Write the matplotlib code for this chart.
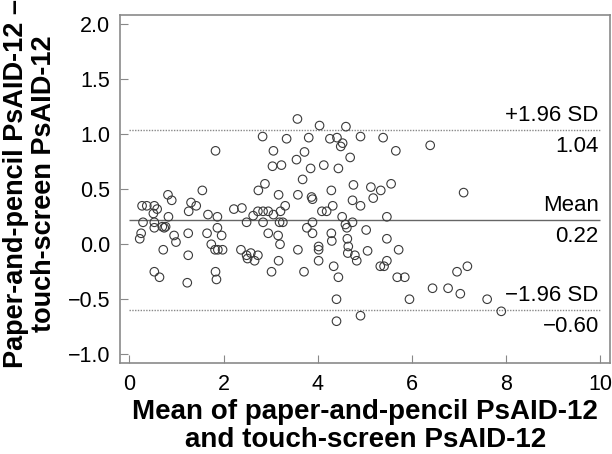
import numpy as np
import matplotlib.pyplot as plt

plt.rcParams['font.family'] = ['Liberation Sans', 'DejaVu Sans']

# Bland-Altman data: mean of both versions vs difference (paper - touch)
mean_scores = [
    2.83, 3.34, 1.83, 3.06, 3.04, 3.23, 1.55, 2.74, 2.88, 0.82, 0.90, 3.17,
    0.27, 0.37, 0.53, 0.59, 0.51, 0.83, 1.31, 1.42, 1.26, 1.67, 1.87, 2.22,
    2.39, 2.63, 2.73, 2.84, 2.95, 3.06, 3.21, 3.31, 0.29, 0.53, 0.53, 0.70,
    0.74, 0.77, 2.49, 2.84, 3.19, 3.26, 1.87, 0.25, 0.22, 0.95, 0.99, 1.25,
    1.65, 1.96, 2.95, 3.16, 3.20, 1.74, 1.82, 1.88, 1.98, 0.72, 2.37, 2.49,
    2.58, 2.51, 2.66, 2.73, 1.25, 3.17, 0.53, 0.64, 1.83, 1.85, 3.02, 1.23,
    3.57, 4.04, 4.60, 3.81, 4.26, 4.41, 4.53, 4.49, 4.91, 5.39, 6.39, 3.72,
    5.66, 3.55, 4.69, 3.85, 4.13, 4.44, 3.68,
    3.58, 3.87, 3.89, 4.29, 4.76, 5.13, 5.34, 5.56, 5.18, 4.74, 4.91, 4.32,
    4.09, 4.19, 4.52, 5.47, 3.89, 3.77, 3.89, 4.59, 4.62, 4.74,
    4.29, 4.30, 5.03, 4.63, 4.65, 4.64, 4.79, 4.83, 5.06, 5.47, 5.72, 3.58,
    4.02, 4.02, 4.02, 3.71, 4.34, 4.44, 5.33, 5.41, 5.47, 5.69, 5.85, 4.40,
    5.95, 6.44, 6.77, 4.40, 4.91,
    7.10, 7.18, 6.96, 7.03, 7.60, 7.90,
]
differences = [
    0.98, 0.96, 0.85, 0.85, 0.71, 0.72, 0.49, 0.49, 0.55, 0.45, 0.40, 0.45,
    0.35, 0.35, 0.35, 0.32, 0.28, 0.25, 0.38, 0.35, 0.30, 0.27, 0.25, 0.32,
    0.33, 0.26, 0.30, 0.30, 0.30, 0.27, 0.30, 0.35, 0.20, 0.20, 0.15, 0.16,
    0.15, 0.16, 0.20, 0.20, 0.20, 0.20, 0.15, 0.10, 0.05, 0.08, 0.02, 0.10,
    0.10, 0.08, 0.10, 0.08, 0.00, 0.00, -0.05, -0.05, -0.05, -0.05, -0.05, -0.10,
    -0.08, -0.13, -0.15, -0.10, -0.10, -0.15, -0.25, -0.30, -0.25, -0.32, -0.25, -0.35,
    1.14, 1.08, 1.07, 0.97, 0.96, 0.97, 0.92, 0.89, 0.98, 0.97, 0.90, 0.84,
    0.85, 0.77, 0.79, 0.69, 0.72, 0.69, 0.59,
    0.45, 0.43, 0.41, 0.49, 0.54, 0.52, 0.49, 0.55, 0.42, 0.40, 0.35, 0.35,
    0.30, 0.30, 0.25, 0.25, 0.20, 0.15, 0.10, 0.18, 0.15, 0.20,
    0.10, 0.03, 0.13, 0.05, -0.02, -0.08, -0.10, -0.15, -0.06, 0.05, -0.05, -0.05,
    -0.02, -0.05, -0.15, -0.25, -0.20, -0.30, -0.20, -0.20, -0.15, -0.30, -0.30, -0.50,
    -0.50, -0.40, -0.40, -0.70, -0.65,
    0.47, -0.20, -0.25, -0.45, -0.50, -0.61,
]

mean_diff = 0.22
upper_loa = 1.04
lower_loa = -0.60

fig = plt.figure(figsize=(6.12, 4.54), dpi=100)
ax = fig.add_axes([0.196, 0.2, 0.8, 0.767])

ax.scatter(mean_scores, differences, s=38, facecolors='none',
           edgecolors='#3a3a3a', linewidths=0.8, zorder=3)

# mean and limits of agreement
ax.hlines(mean_diff, 0, 10, color='#666666', lw=1.0, zorder=2)
ax.hlines([upper_loa, lower_loa], 0, 10, color='#888888', lw=1.0,
          linestyles=(0, (1, 1)), zorder=2)

labels = [(upper_loa, '+1.96 SD', '1.04'),
          (mean_diff, 'Mean', '0.22'),
          (lower_loa, '\u22121.96 SD', '\u22120.60')]
for yv, top, bottom in labels:
    ax.annotate(top, (9.97, yv), xytext=(0, 3), textcoords='offset points',
                ha='right', va='bottom', fontsize=16)
    ax.annotate(bottom, (9.97, yv), xytext=(0, -4), textcoords='offset points',
                ha='right', va='top', fontsize=16)

ax.set_xlim(-0.2, 10.2)
ax.set_ylim(-1.082, 2.086)
ax.set_xticks(np.arange(0, 11, 2))
ax.set_yticks(np.arange(-1.0, 2.01, 0.5))
ax.set_yticklabels(['\u22121.0', '\u22120.5', '0.0', '0.5', '1.0', '1.5', '2.0'])
ax.tick_params(direction='in', length=6, width=0.8, color='#888888',
               labelsize=15.5)
ax.tick_params(axis='x', pad=8)
ax.tick_params(axis='y', pad=7)
for sp in ax.spines.values():
    sp.set_color('#8a8a8a')
    sp.set_linewidth(1.2)

fig.text(0.597, 0.062, 'Mean of paper-and-pencil PsAID-12\nand touch-screen PsAID-12',
         ha='center', va='center', fontsize=20, fontweight='bold',
         multialignment='center', linespacing=1.08)
fig.text(0.049, 0.595, 'Paper-and-pencil PsAID-12 \u2013\ntouch-screen PsAID-12',
         ha='center', va='center', rotation=90, fontsize=19.5, fontweight='bold',
         multialignment='center', linespacing=1.1)

fig.savefig('out.png', dpi=100)
